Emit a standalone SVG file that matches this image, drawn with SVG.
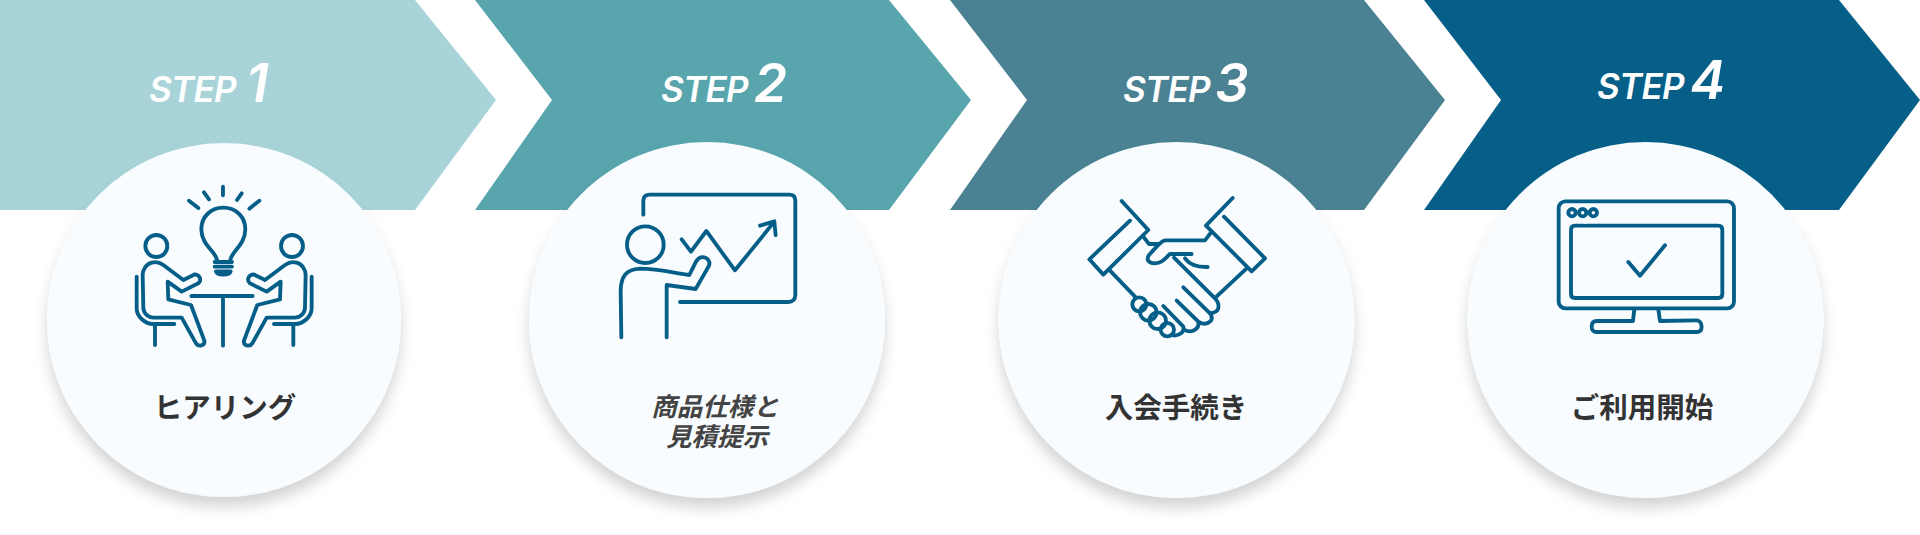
<svg xmlns="http://www.w3.org/2000/svg" width="1920" height="535" viewBox="0 0 1920 535">
<style>
.ico{fill:none;stroke:#055e88;stroke-width:11.500;stroke-linecap:round;stroke-linejoin:round}
.disc{fill:#f8fcff;filter:url(#sh)}
.st{font-family:Inter,"Liberation Sans",sans-serif;font-style:italic;font-weight:600;font-size:35px;letter-spacing:-.7px;fill:#fff}
.nm{font-family:Inter,"Liberation Sans",sans-serif;font-style:italic;font-weight:600;font-size:53px;fill:#fff}
.lb{font-family:"Noto Sans CJK JP",sans-serif;font-weight:700;font-size:28.500px;fill:#333;text-anchor:middle}
.li{font-family:"Noto Sans CJK JP",sans-serif;font-weight:700;font-style:italic;font-size:25.500px;fill:#444;text-anchor:middle}
</style>
<defs>
<filter id="sh" x="-20%" y="-20%" width="140%" height="140%"><feDropShadow dx="0" dy="10" stdDeviation="7" flood-color="#000" flood-opacity=".17"/></filter>
<g id="person">
<circle cx="109" cy="198" r="33"/>
<path d="M190 300L130 255C118 246 105 245 95 248C78 252 68 270 68 285L70 385C72 402 85 412 100 413L185 413L228 490C236 502 256 497 253 482L213 375L145 358L143 305L185 335L235 310C246 300 240 285 225 283L190 300"/>
<path d="M50 290L50 385C50 410 75 432 100 432L163 432M105 435L105 495"/>
</g>
</defs>
<g id="step1">
<path d="M0 0H415L496 100L415 210H0Z" fill="#a8d4d9"/>
<text class="st" x="149" y="102">STEP</text><text class="nm" x="246" y="102">1</text>
<circle class="disc" cx="224" cy="320" r="177"/>
<g class="ico" transform="translate(120 180) scale(.3333)">
<path d="M207 62L235 84M252 37L267 58M309 20V46M365 40L351 60M418 62L388 86"/>
<path d="M291 240C288 215 244 195 244 148C244 108 275 83 310 83C345 83 376 108 376 148C376 195 334 215 331 240"/>
<path d="M284 246H336M284 260H336M288 274H332C328 287 292 287 288 274Z"/>
<use href="#person"/><use href="#person" transform="translate(625 0) scale(-1 1)"/>
<path d="M214 348H398M309 350V497"/>
</g>
<text class="lb" x="225" y="418">ヒアリング</text>
</g>
<g id="step2">
<path d="M475 0H889L971 100L889 210H475L552 100Z" fill="#58a5ad"/>
<text class="st" x="661" y="102">STEP</text><text class="nm" x="754" y="102">2</text>
<circle class="disc" cx="707" cy="320" r="178"/>
<g class="ico" transform="translate(600 180) scale(.3333)">
<path d="M130 104V62C130 50 138 44 150 44H568C580 44 586 50 586 62V345C586 358 578 366 565 366H240"/>
<circle cx="136" cy="194" r="55"/>
<path d="M245 178L273 215L319 153L405 271L523 125M480 137L523 124L527 165"/>
<path d="M64 472L62 335C62 290 78 268 120 266C170 266 220 278 268 285L288 245C298 228 315 228 325 240C332 250 328 258 322 266L287 327L200 315V472"/>
</g>
<text class="li" x="715" y="416">商品仕様と</text>
<text class="li" x="717" y="446">見積提示</text>
</g>
<g id="step3">
<path d="M950 0H1364L1445 100L1364 210H950L1027 100Z" fill="#4a8294"/>
<text class="st" x="1123" y="102">STEP</text><text class="nm" x="1215" y="102">3</text>
<circle class="disc" cx="1176.500" cy="320" r="178"/>
<g class="ico" transform="translate(1075 180) scale(.3333)">
<path d="M140 63L220 150L85 284L43 238L165 122"/>
<path d="M473 54L393 137L530 274L570 235L447 110"/>
<path d="M205 170L222 192H250M410 155L390 181H272C262 181 255 190 245 200L222 225C212 240 222 250 240 250C262 250 270 235 285 222H350"/>
<path d="M330 235C345 255 370 262 398 261"/>
<path d="M297 233L420 355C435 372 435 392 415 398L405 400M325 322L405 400C420 420 400 435 380 430L370 425M305 362L370 425C375 450 345 460 330 450M265 378L325 440C330 460 305 470 290 465"/>
<path d="M105 272L183 353M515 265L422 352"/>
<circle cx="193" cy="373" r="21"/><circle cx="220" cy="397" r="25"/><circle cx="248" cy="422" r="25"/><circle cx="277" cy="449" r="20"/>
</g>
<text class="lb" x="1176" y="418">入会手続き</text>
</g>
<g id="step4">
<path d="M1424 0H1839L1920 100L1839 210H1424L1501 100Z" fill="#055f88"/>
<text class="st" x="1597" y="99">STEP</text><text class="nm" x="1690" y="99">4</text>
<circle class="disc" cx="1645.500" cy="320" r="178"/>
<g class="ico" transform="translate(1545 180) scale(.3333)">
<rect x="41" y="64" width="526" height="321" rx="20"/>
<path d="M117 137H90C82 137 78 142 78 150V342C78 350 82 354 90 354H520C528 354 532 350 532 342V150C532 142 528 137 520 137H125"/>
<circle cx="81" cy="98" r="11"/><circle cx="113" cy="98" r="11"/><circle cx="145" cy="98" r="11"/>
<path d="M250 246L285 287L360 196"/>
<path d="M268 388L264 423H155C142 423 140 432 140 440C140 450 146 456 155 456H455C465 456 470 450 470 440C470 428 462 421 455 421L345 423L340 388"/>
</g>
<text class="lb" x="1642" y="418">ご利用開始</text>
</g>
</svg>
